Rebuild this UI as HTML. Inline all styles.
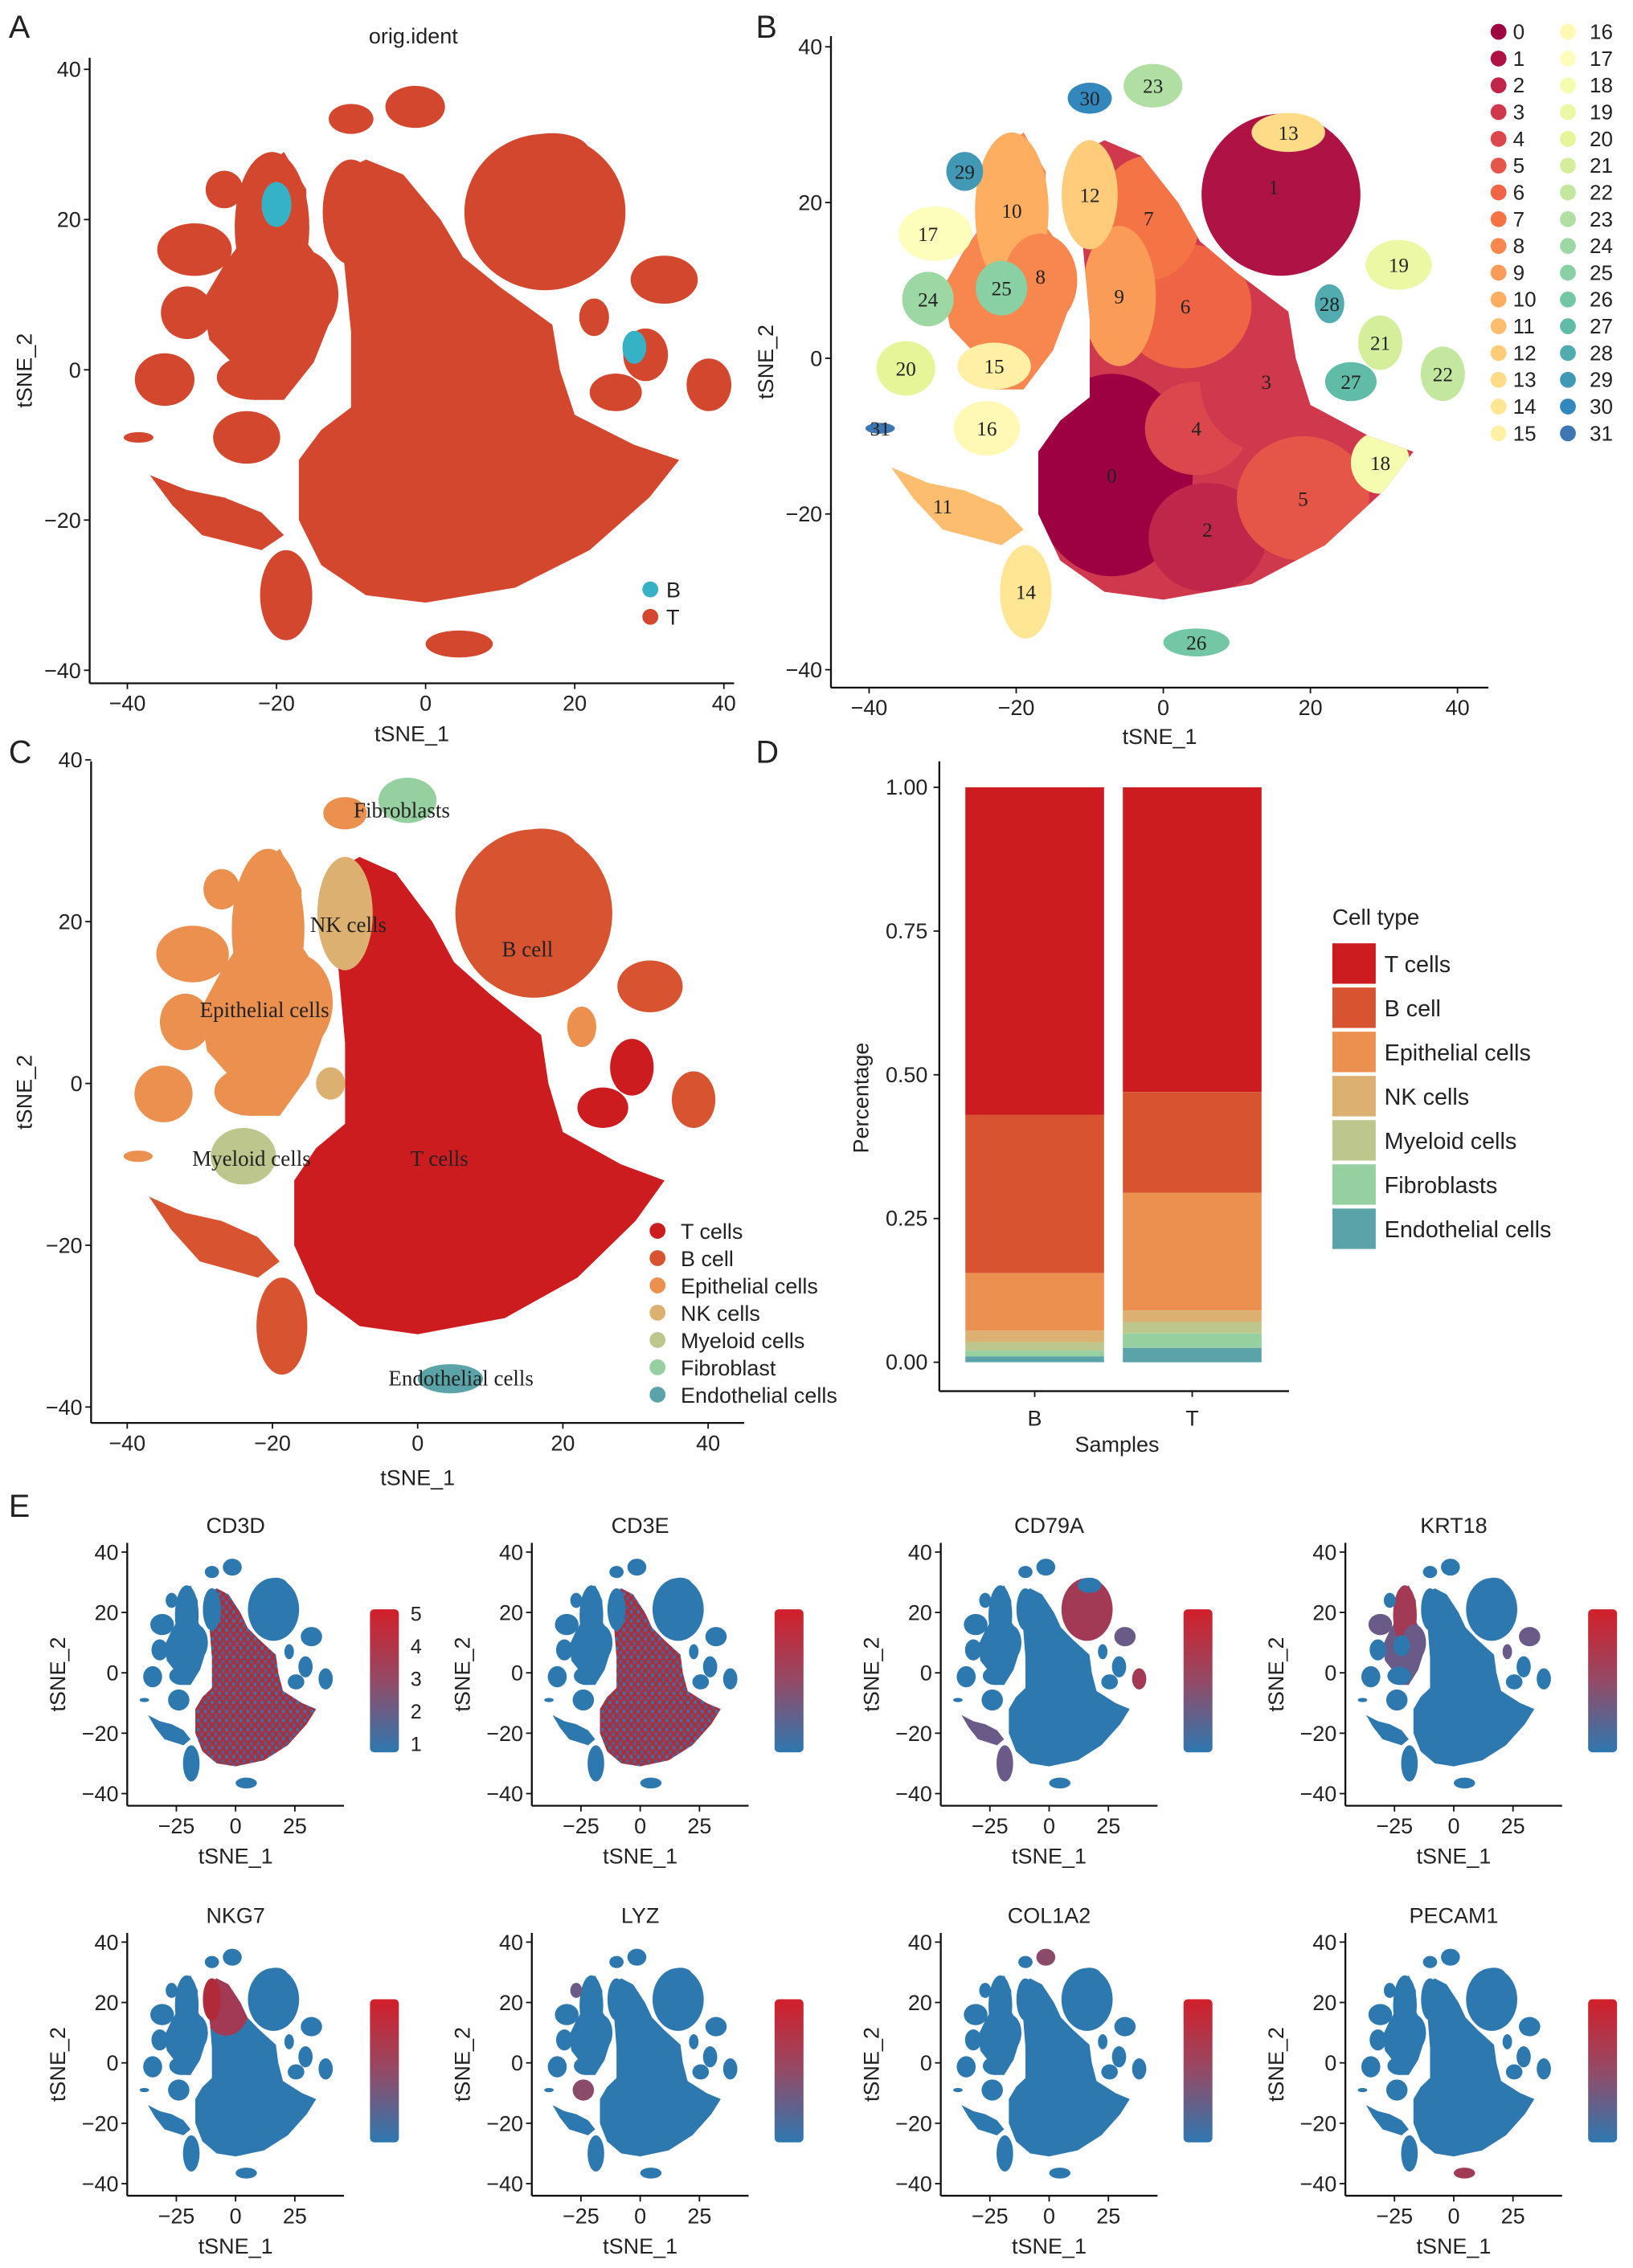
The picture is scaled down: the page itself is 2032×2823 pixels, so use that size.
<!DOCTYPE html>
<html><head><meta charset="utf-8">
<style>
html,body{margin:0;padding:0;background:#fff}
svg{display:block}
text{font-family:"Liberation Sans",sans-serif;fill:#222}
.ser{font-family:"Liberation Serif",serif;fill:#222}
</style></head>
<body>
<svg id="fig" xmlns="http://www.w3.org/2000/svg" width="2032" height="2823" viewBox="0 0 1130 1570"></svg>
<script>
// ---------- data ----------
const samples = ["B","T"];
const cellTypes = ["T cells","B cell","Epithelial cells","NK cells","Myeloid cells","Fibroblasts","Endothelial cells"];
const fracB = [0.57,0.275,0.10,0.02,0.015,0.01,0.01];
const fracT = [0.53,0.175,0.205,0.02,0.02,0.025,0.025];
const pctTicks = [0,0.25,0.5,0.75,1.0];
const pctTickLabels = ["0.00","0.25","0.50","0.75","1.00"];
const typeColors = ["#cc1c1f","#d85431","#ec9050","#dcb070","#bdc68c","#96cfa0","#5aa3a8"];
const tsneTicks = [-40,-20,0,20,40];
const tsneTicksE = [-25,0,25];
const genes = ["CD3D","CD3E","CD79A","KRT18","NKG7","LYZ","COL1A2","PECAM1"];

const NS="http://www.w3.org/2000/svg";
const fig=document.getElementById('fig');
function el(tag,attrs,parent,txt){const e=document.createElementNS(NS,tag);for(const k in attrs)e.setAttribute(k,attrs[k]);if(txt!==undefined)e.textContent=txt;(parent||fig).appendChild(e);return e;}

const stops=["#9e0142","#d53e4f","#f46d43","#fdae61","#fee08b","#ffffbf","#e6f598","#abdda4","#66c2a5","#3288bd","#5e4fa2"];
function hex(c){return [1,3,5].map(i=>parseInt(c.substr(i,2),16));}
function pal(i){const t=i/31*0.93*(stops.length-1);const a=Math.floor(t),f=t-a;const c1=hex(stops[a]),c2=hex(stops[Math.min(a+1,stops.length-1)]);return "rgb("+c1.map((v,k)=>Math.round(v+(c2[k]-v)*f)).join(",")+")";}

// ---------- tSNE shapes (data coords) ----------
const mainPoly=[[-12,26],[-8,28],[-3,26],[2,20],[5,15],[10,11],[17,6],[18,0],[20,-6],[28,-10],[34,-12],[30,-17],[22,-24],[12,-29],[0,-31],[-8,-30],[-14,-26],[-17,-20],[-17,-12],[-14,-8],[-10,-5],[-10,5],[-11,15],[-12,22]];
const epiPoly=[[-30,9],[-27,14],[-24,18],[-23,26],[-19,29],[-16,24],[-16,17],[-13,13],[-13,6],[-15,1],[-19,-4],[-23,-4],[-26,1],[-29,4]];
const clust11=[[-37,-14],[-32,-16],[-27,-17],[-22,-19],[-19,-22],[-22,-24],[-26,-23],[-30,-22],[-34,-18]];
const shapes=[
 ["p",8,2,epiPoly],
 ["e",1,1,[16,21,10.8,10.4]],
 ["e",13,1,[17,29,5,2.5]],
 ["e",10,2,[-20.6,19,5,10]],
 ["e",8,2,[-16.7,10,5,6]],
 ["e",17,2,[-31,16,5,3.5]],
 ["e",24,2,[-32,7.6,3.5,3.5]],
 ["e",25,2,[-22,9,3.5,3.5]],
 ["e",20,2,[-35,-1.3,4,3.5]],
 ["e",15,2,[-23,-1,5,3]],
 ["e",29,2,[-27,24,2.5,2.5]],
 ["e",16,4,[-24,-9,4.5,3.5]],
 ["p",11,1,clust11],
 ["e",14,1,[-18.7,-30,3.5,6]],
 ["e",12,3,[-10,21,3.8,7]],
 ["e",30,2,[-10,33.4,3,2]],
 ["e",23,5,[-1.4,35,4,2.8]],
 ["e",26,6,[4.5,-36.5,4.5,1.8]],
 ["e",19,1,[32,12,4.5,3.2]],
 ["e",28,2,[22.6,7,2,2.5]],
 ["e",21,0,[29.5,2,3,3.5]],
 ["e",27,0,[25.5,-3,3.5,2.5]],
 ["e",22,1,[38,-2,3,3.5]],
 ["e",31,2,[-38.5,-9,2,0.7]]
];
const subClust=[[0,-7,-15,11,13],[2,6,-23,8,7],[4,4.5,-9,7,6],[3,14,-3,9,9],[5,19,-18,9,8],[6,3,6.7,9,8],[7,-2,18,7,8],[9,-6,8,5,9],[18,29.5,-13.4,4,4]];

function drawShapes(g,colorFn,mainColor){
  el('polygon',{points:mainPoly.map(p=>p.join(',')).join(' '),fill:mainColor},g);
  shapes.forEach(s=>{
    const c=colorFn(s);
    if(s[0]==="e"){const [x,y,rx,ry]=s[3];el('ellipse',{cx:x,cy:y,rx:rx,ry:ry,fill:c},g);}
    else el('polygon',{points:s[3].map(p=>p.join(',')).join(' '),fill:c},g);
  });
}

let clipId=0;
function mainClip(g){const id='mc'+(clipId++);const cp=el('clipPath',{id:id},g);el('polygon',{points:mainPoly.map(p=>p.join(',')).join(' ')},cp);return 'url(#'+id+')';}

function axes(name,ox,oy,kx,ky,xl,xr,yt,yb,xticks,yticks,fs,xtitleY,ytitleX){
  const g=el('g',{},fig);
  
  
  el('line',{x1:xl,y1:yt,x2:xl,y2:yb,stroke:'#111','stroke-width':1.3},g);
  el('line',{x1:xl,y1:yb,x2:xr,y2:yb,stroke:'#111','stroke-width':1.3},g);
  xticks.forEach(t=>{const x=ox+kx*t;el('line',{x1:x,y1:yb,x2:x,y2:yb+4,stroke:'#111'},g);
    const tx=el('text',{x:x,y:yb+fs+4,'font-size':fs,'text-anchor':'middle'},g,t<0?'\u2212'+(-t):String(t));
    });
  yticks.forEach(t=>{const y=oy-ky*t;el('line',{x1:xl-4,y1:y,x2:xl,y2:y,stroke:'#111'},g);
    const tx=el('text',{x:xl-6,y:y+fs*0.35,'font-size':fs,'text-anchor':'end'},g,t<0?'\u2212'+(-t):String(t));
    });
  const xt=el('text',{x:(xl+xr)/2,y:xtitleY,'font-size':fs,'text-anchor':'middle'},g,'tSNE_1');
  
  const yy=(yt+yb)/2;
  const yt2=el('text',{x:ytitleX,y:yy,'font-size':fs,'text-anchor':'middle',transform:`rotate(-90 ${ytitleX} ${yy})`},g,'tSNE_2');
  
}

function letter(t,x,y){const e=el('text',{x:x,y:y,'font-size':22},fig,t);}

// ---------- Panel A ----------
letter('A',6,26);
{const tt=el('text',{x:286,y:30,'font-size':15,'text-anchor':'middle'},fig,'orig.ident');}
{const g=el('g',{transform:'translate(294.5,256) scale(5.16,-5.2)'});
 
 drawShapes(g,()=>'#d4472f','#d4472f');
 el('ellipse',{cx:-20,cy:22,rx:2,ry:3,fill:'#35b2c6'},g);
 el('ellipse',{cx:28,cy:3,rx:1.6,ry:2.2,fill:'#35b2c6'},g);}
axes('A',294.5,256,5.16,5.2,62,508,40,473,tsneTicks,tsneTicks,15,513,22);
[['B','#35b2c6',408],['T','#d4472f',427]].forEach(r=>{const c=el('circle',{cx:450,cy:r[2],r:5.5,fill:r[1]});
 const t=el('text',{x:461,y:r[2]+5.5,'font-size':15},fig,r[0]);});

// ---------- Panel B ----------
letter('B',523,26);
{const g=el('g',{transform:'translate(805,248) scale(5.09,-5.39)'});
 
 drawShapes(g,s=>pal(s[1]),pal(3));
 const cg=el('g',{'clip-path':mainClip(g)},g);
 subClust.forEach(s=>el('ellipse',{cx:s[1],cy:s[2],rx:s[3],ry:s[4],fill:pal(s[0])},cg));
 el('ellipse',{cx:-10,cy:21,rx:3.8,ry:7,fill:pal(12)},g);}
axes('B',805,248,5.09,5.39,575,1030,25,476,tsneTicks,tsneTicks,15,515,535);
const labPos=[[0,-7,-15],[1,15,22],[2,6,-22],[3,14,-3],[4,4.5,-9],[5,19,-18],[6,3,6.7],[7,-2,18],[8,-16.7,10.5],[9,-6,8],[10,-20.6,19],[11,-30,-19],[12,-10,21],[13,17,29],[14,-18.7,-30],[15,-23,-1],[16,-24,-9],[17,-32,16],[18,29.5,-13.4],[19,32,12],[20,-35,-1.3],[21,29.5,2],[22,38,-2],[23,-1.4,35],[24,-32,7.6],[25,-22,9],[26,4.5,-36.5],[27,25.5,-3],[28,22.6,7],[29,-27,24],[30,-10,33.4],[31,-38.5,-9]];
labPos.forEach(l=>{const t=el('text',{class:'ser',x:805+5.09*l[1],y:248-5.39*l[2]+5,'font-size':14,'text-anchor':'middle'},fig,String(l[0]));});
for(let i=0;i<32;i++){const col=i<16?0:1,row=i%16;const x=col?1085:1037,y=22+18.53*row;
 const c=el('circle',{cx:x,cy:y,r:5.5,fill:pal(i)});
 const t=el('text',{x:col?1100:1047,y:y+5,'font-size':14.5},fig,String(i));}

// ---------- Panel C ----------
letter('C',6,528);
{const g=el('g',{transform:'translate(289,750) scale(5.025,-5.6)'});
 
 drawShapes(g,s=>typeColors[s[2]],typeColors[0]);
 el('ellipse',{cx:-10,cy:21,rx:3.8,ry:7,fill:typeColors[3]},g);
 el('ellipse',{cx:-12,cy:0,rx:2,ry:2,fill:typeColors[3]},g);}
axes('C',289,750,5.025,5.6,63,515,527,985,tsneTicks,tsneTicks,15,1028,22);
[['Fibroblasts',278,566],['NK cells',241,645],['B cell',365,662],['Epithelial cells',183,704],['Myeloid cells',174,807],['T cells',304,807],['Endothelial cells',319,959]].forEach(l=>{const t=el('text',{class:'ser',x:l[1],y:l[2],'font-size':15,'text-anchor':'middle'},fig,l[0]);});
["T cells","B cell","Epithelial cells","NK cells","Myeloid cells","Fibroblast","Endothelial cells"].forEach((n,i)=>{const y=852+18.9*i;
 const c=el('circle',{cx:455,cy:y,r:5.5,fill:typeColors[i]});
 const t=el('text',{x:471,y:y+5.5,'font-size':15},fig,n);});

// ---------- Panel D ----------
letter('D',523,528);
const yD=v=>943-398*v;
const barX=[668,777],barW=96;
[fracB,fracT].forEach((fr,si)=>{let acc=1;
 fr.forEach((v,k)=>{const top=acc,bot=acc-v;acc=bot;
  const r=el('rect',{x:barX[si],y:yD(top),width:barW,height:yD(bot)-yD(top),fill:typeColors[k]});
  
  });});
el('line',{x1:650,y1:527,x2:650,y2:963,stroke:'#111','stroke-width':1.3});
el('line',{x1:650,y1:963,x2:892,y2:963,stroke:'#111','stroke-width':1.3});
pctTicks.forEach((t,i)=>{el('line',{x1:646,y1:yD(t),x2:650,y2:yD(t),stroke:'#111'});
 const tx=el('text',{x:642,y:yD(t)+5,'font-size':15,'text-anchor':'end'},fig,pctTickLabels[i]);});
samples.forEach((s,i)=>{const x=barX[i]+barW/2;el('line',{x1:x,y1:963,x2:x,y2:967,stroke:'#111'});
 const tx=el('text',{x:x,y:987,'font-size':15,'text-anchor':'middle'},fig,s);});
{const t=el('text',{x:773,y:1005,'font-size':15,'text-anchor':'middle'},fig,'Samples');
 const t2=el('text',{x:601,y:760,'font-size':15,'text-anchor':'middle',transform:'rotate(-90 601 760)'},fig,'Percentage');
 const t3=el('text',{x:922,y:640,'font-size':15.5},fig,'Cell type');}
cellTypes.forEach((n,i)=>{const y=653+30.6*i;
 const r=el('rect',{x:922,y:y,width:30,height:28,fill:typeColors[i]});
 const t=el('text',{x:958,y:y+20,'font-size':16},fig,n);});

// ---------- Panel E ----------
letter('E',6,1050);
const defs=el('defs',{});
{const grad=el('linearGradient',{id:'cbar',x1:0,y1:0,x2:0,y2:1},defs);
 el('stop',{offset:'0',  'stop-color':'#d21f2a'},grad);el('stop',{offset:'0.5','stop-color':'#944a66'},grad);el('stop',{offset:'1','stop-color':'#2e78b0'},grad);
 const pat=el('pattern',{id:'mix',width:3,height:3,patternUnits:'userSpaceOnUse'},defs);
 el('rect',{width:3,height:3,fill:'#a8303e'},pat);el('rect',{x:0,y:0,width:1.3,height:1.3,fill:'#5a5a8a'},pat);el('rect',{x:1.6,y:1.6,width:1.2,height:1.2,fill:'#3d70a8'},pat);}
const BLUE='#2e78b0',HOT='#a33a55';
const colOff=[0,280,563,843],rowOff=[0,270];
genes.forEach((gname,gi)=>{
  const dx=colOff[gi%4],dy=rowOff[Math.floor(gi/4)];
  const ox=163+dx,oy=1158+dy,kx=1.64,ky=2.09;
  const t=el('text',{x:ox,y:1061+dy,'font-size':15,'text-anchor':'middle'},fig,gname);
  
  const g=el('g',{transform:`translate(${ox},${oy}) scale(${kx},${-ky})`});
  
  drawShapes(g,s=>{
    if(gname==='CD79A'&&(s[1]===1||s[1]===11||s[1]===14||s[1]===22||s[1]===19)&&s[0]==="e"||gname==='CD79A'&&s[1]===11)return (s[1]===1||s[1]===22)?HOT:'#6a5a88';
    if(gname==='KRT18'&&(s[1]===10||s[1]===17||s[1]===8||s[1]===28||s[1]===19))return s[1]===10?HOT:'#6a5a88';
    if(gname==='LYZ'&&(s[1]===16||s[1]===29))return s[1]===16?'#8a4a6a':'#6a5a88';
    if(gname==='COL1A2'&&s[1]===23)return '#8a4a6a';
    if(gname==='PECAM1'&&s[1]===26)return HOT;
    return BLUE;},(gname==='CD3D'||gname==='CD3E')?'url(#mix)':BLUE);
  if(gname==='CD3D'||gname==='CD3E'){el('ellipse',{cx:-10,cy:21,rx:3.8,ry:6,fill:BLUE},g);}
  if(gname==='NKG7'){const cg=el('g',{'clip-path':mainClip(g)},g);el('ellipse',{cx:-4,cy:19,rx:10,ry:10,fill:HOT},cg);el('ellipse',{cx:-10,cy:21,rx:3.8,ry:7,fill:'#b02a3a'},g);}
  axes('E'+gi,ox,oy,kx,ky,88+dx,238+dx,1068+dy,1250+dy,tsneTicksE,tsneTicks,15,1290+dy,45+dx);
  const cb=el('rect',{x:256+dx,y:1114+dy,width:20,height:99,rx:3,fill:'url(#cbar)'});
  
  if(gi===0){["5","4","3","2","1"].forEach((v,k)=>{const tt=el('text',{x:284,y:1122+22.5*k,'font-size':14},fig,v);});}
});
</script>
</body></html>
